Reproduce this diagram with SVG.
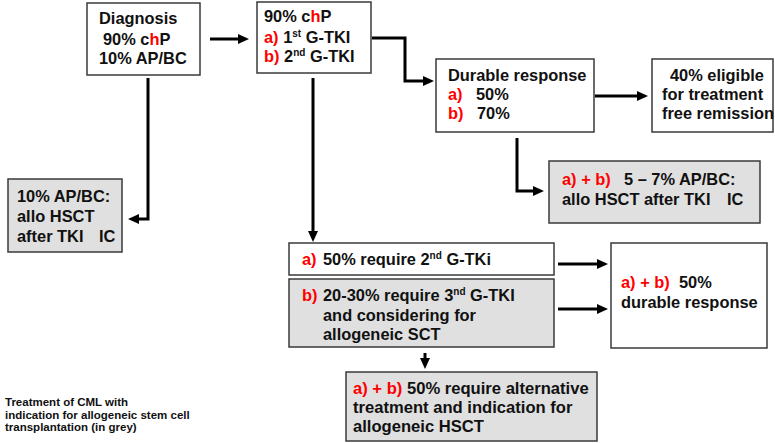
<svg xmlns="http://www.w3.org/2000/svg" width="775" height="443" viewBox="0 0 775 443">
<defs>
<style>
.box{fill:#ffffff;stroke:#3a3a3a;stroke-width:1.5}
.grey{fill:#e0e0e0;stroke:#3a3a3a;stroke-width:1.5}
text{font-family:"Liberation Sans",Arial,sans-serif;font-weight:bold;font-size:16.4px;fill:#111}
.r{fill:#ff0000}
.sup{font-size:10px}
.cap{font-size:11.5px}
.big{font-size:16.6px}
.con{fill:none;stroke:#000;stroke-width:3}
</style>
<marker id="ah" markerUnits="userSpaceOnUse" markerWidth="11" markerHeight="10" refX="6" refY="5" orient="auto">
<path d="M0,0 L11,5 L0,10 z" fill="#000"/>
</marker>
</defs>
<rect width="775" height="443" fill="#ffffff"/>

<g id="connectors">
<path class="con" d="M210,39 H244" marker-end="url(#ah)"/>
<path class="con" d="M372,38 H405 V81 H429" marker-end="url(#ah)"/>
<path class="con" d="M595,96 H643" marker-end="url(#ah)"/>
<path class="con" d="M517,138 V191 H539" marker-end="url(#ah)"/>
<path class="con" d="M148,78 V219 H133" marker-end="url(#ah)"/>
<path class="con" d="M313,78 V237" marker-end="url(#ah)"/>
<path class="con" d="M558,264 H603" marker-end="url(#ah)"/>
<path class="con" d="M558,309 H603" marker-end="url(#ah)"/>
<path class="con" d="M425,353 V364" marker-end="url(#ah)"/>
</g>

<g id="diagnosis">
<rect class="box" x="87" y="3" width="113" height="72"/>
<text x="99" y="24">Diagnosis</text>
<text x="103" y="45">90% c<tspan class="r">h</tspan>P</text>
<text x="99" y="64">10% AP/BC</text>
</g>

<g id="chp">
<rect class="box" x="257" y="2" width="114" height="71"/>
<text x="264" y="22">90% c<tspan class="r">h</tspan>P</text>
<text x="264" y="43"><tspan class="r">a)</tspan> 1<tspan class="sup" dy="-6">st</tspan><tspan dy="6"> G-TKI</tspan></text>
<text x="264" y="62"><tspan class="r">b)</tspan> 2<tspan class="sup" dy="-6">nd</tspan><tspan dy="6"> G-TKI</tspan></text>
</g>

<g id="durable">
<rect class="box" x="436" y="59" width="158" height="73"/>
<text x="448" y="81">Durable response</text>
<text y="100"><tspan class="r" x="448">a)</tspan><tspan x="476">50%</tspan></text>
<text y="119"><tspan class="r" x="448">b)</tspan><tspan x="477">70%</tspan></text>
</g>

<g id="tfr">
<rect class="box" x="652" y="59" width="121" height="73"/>
<text x="670" y="81">40% eligible</text>
<text x="662" y="100">for treatment</text>
<text x="662" y="119">free remission</text>
</g>

<g id="apbc57">
<rect class="grey" x="549" y="161" width="211" height="62"/>
<text y="185"><tspan class="r" x="562">a) + b)</tspan><tspan x="624">5 – 7% AP/BC:</tspan></text>
<text y="205"><tspan x="562">allo HSCT after TKI</tspan><tspan x="727">IC</tspan></text>
</g>

<g id="apbc10">
<rect class="grey" x="8" y="179" width="114" height="73"/>
<text x="17" y="202">10% AP/BC:</text>
<text x="17" y="222">allo HSCT</text>
<text y="242"><tspan x="17">after TKI</tspan><tspan x="99">IC</tspan></text>
</g>

<g id="second">
<rect class="box" x="289" y="243" width="265" height="32"/>
<text y="265"><tspan class="r" x="302">a)</tspan><tspan x="323">50% require 2</tspan><tspan class="sup" dy="-6">nd</tspan><tspan dy="6"> G-TKi</tspan></text>
</g>

<g id="third">
<rect class="grey" x="289" y="279" width="265" height="68"/>
<text y="301"><tspan class="r" x="302">b)</tspan><tspan x="323">20-30% require 3</tspan><tspan class="sup" dy="-6">nd</tspan><tspan dy="6"> G-TKI</tspan></text>
<text x="323" y="321">and considering for</text>
<text x="323" y="340">allogeneic SCT</text>
</g>

<g id="durable50">
<rect class="box" x="611" y="243" width="156" height="105"/>
<text y="288"><tspan class="r" x="621">a) + b)</tspan><tspan x="679">50%</tspan></text>
<text x="621" y="308">durable response</text>
</g>

<g id="alternative">
<rect class="grey" x="346" y="372" width="251" height="69"/>
<text class="big" x="353" y="394"><tspan class="r">a) + b)</tspan> 50% require alternative</text>
<text class="big" x="353" y="413">treatment and indication for</text>
<text class="big" x="353" y="432">allogeneic HSCT</text>
</g>

<g id="caption">
<text class="cap" x="5" y="406">Treatment of CML with</text>
<text class="cap" x="5" y="418.5">indication for allogeneic stem cell</text>
<text class="cap" x="5" y="431">transplantation (in grey)</text>
</g>
</svg>
